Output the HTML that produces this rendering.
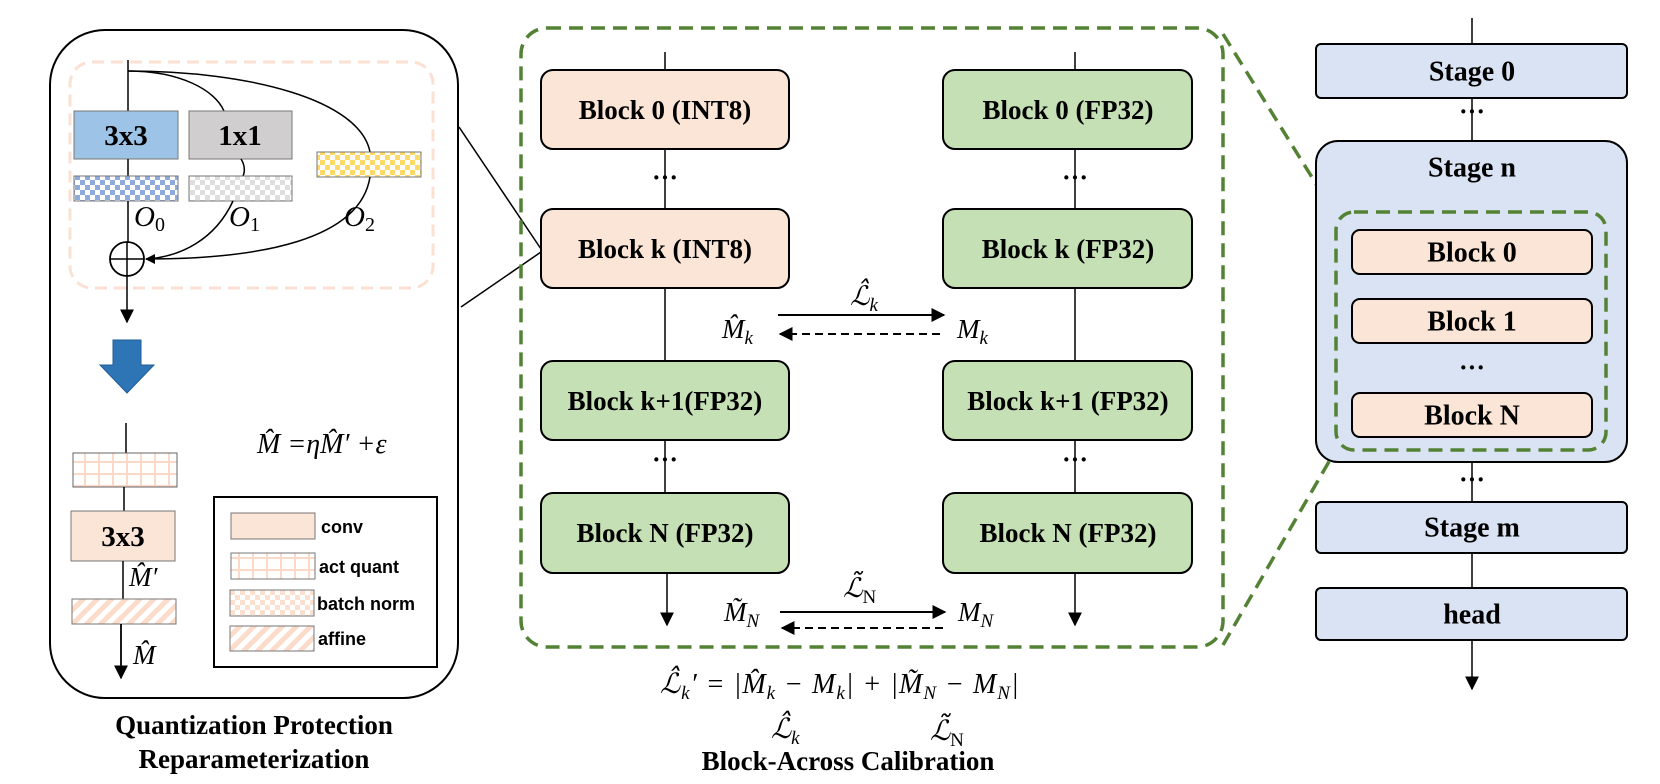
<!DOCTYPE html>
<html><head><meta charset="utf-8"><style>
html,body{margin:0;padding:0;background:#fff;}
svg{display:block;}
.b{font-family:"Liberation Serif",serif;font-weight:bold;}
.m{font-family:"Liberation Serif",serif;font-style:italic;}
.s{font-family:"Liberation Sans",sans-serif;font-weight:bold;}
</style></head><body>
<svg width="1660" height="784" viewBox="0 0 1660 784" xmlns="http://www.w3.org/2000/svg">
<defs>
<marker id="ar" viewBox="0 0 10 10" refX="9" refY="5" markerWidth="10" markerHeight="10" orient="auto" markerUnits="userSpaceOnUse"><path d="M0,0 L10,5 L0,10 z" fill="#000"/></marker>
<marker id="ar2" viewBox="0 0 10 10" refX="9" refY="5" markerWidth="14" markerHeight="14" orient="auto" markerUnits="userSpaceOnUse"><path d="M0,0 L10,5 L0,10 z" fill="#000"/></marker>
<pattern id="chkB" width="10" height="10" patternUnits="userSpaceOnUse"><rect width="10" height="10" fill="#fff"/><rect width="5" height="5" fill="#8faadc"/><rect x="5" y="5" width="5" height="5" fill="#8faadc"/></pattern>
<pattern id="chkG" width="10" height="10" patternUnits="userSpaceOnUse"><rect width="10" height="10" fill="#fff"/><rect width="5" height="5" fill="#dedede"/><rect x="5" y="5" width="5" height="5" fill="#dedede"/></pattern>
<pattern id="chkY" width="10" height="10" patternUnits="userSpaceOnUse"><rect width="10" height="10" fill="#fff"/><rect width="5" height="5" fill="#ffd966"/><rect x="5" y="5" width="5" height="5" fill="#ffd966"/></pattern>
<pattern id="chkP" width="10" height="10" patternUnits="userSpaceOnUse"><rect width="10" height="10" fill="#fff"/><rect width="5" height="5" fill="#fbe0d0"/><rect x="5" y="5" width="5" height="5" fill="#fbe0d0"/></pattern>
<pattern id="grid" width="14" height="12" patternUnits="userSpaceOnUse"><rect width="14" height="12" fill="#fff"/><rect x="0" y="0" width="2" height="12" fill="#fbd9c6"/><rect x="0" y="5" width="14" height="2" fill="#fbd9c6"/></pattern>
<pattern id="diag" width="10" height="10" patternUnits="userSpaceOnUse" patternTransform="rotate(45)"><rect width="10" height="10" fill="#fff"/><rect width="5" height="10" fill="#fbdccb"/></pattern>
</defs>

<!-- LEFT PANEL -->
<rect x="50" y="30" width="408" height="668" rx="55" fill="#fff" stroke="#000" stroke-width="2"/>
<rect x="70" y="62" width="363" height="226" rx="22" fill="none" stroke="#fbe1d3" stroke-width="3" stroke-dasharray="12,7"/>
<line x1="128" y1="60" x2="128" y2="111" stroke="#000" stroke-width="1.5"/>
<path d="M128,71 C180,71 215,90 224,111" fill="none" stroke="#000" stroke-width="1.5"/>
<path d="M128,71 C250,71 360,100 370,152" fill="none" stroke="#000" stroke-width="1.5"/>
<rect x="74" y="111" width="104" height="48" fill="#9dc3e6" stroke="#777" stroke-width="1"/>
<text x="126" y="136" class="b" font-size="29" text-anchor="middle" dominant-baseline="central">3x3</text>
<rect x="189" y="111" width="103" height="48" fill="#d0cece" stroke="#777" stroke-width="1"/>
<text x="240" y="136" class="b" font-size="29" text-anchor="middle" dominant-baseline="central">1x1</text>
<line x1="128" y1="159" x2="128" y2="176" stroke="#000" stroke-width="1.5"/>
<path d="M241,159 C245,165 245,172 243,176" fill="none" stroke="#000" stroke-width="1.5"/>
<rect x="74" y="176" width="104" height="25" fill="url(#chkB)" stroke="#777" stroke-width="1"/>
<rect x="189" y="176" width="103" height="25" fill="url(#chkG)" stroke="#777" stroke-width="1"/>
<rect x="317" y="152" width="104" height="25" fill="url(#chkY)" stroke="#777" stroke-width="1"/>
<line x1="128" y1="201" x2="128" y2="242" stroke="#000" stroke-width="1.5"/>
<path d="M233,201 C215,240 180,257 146,259" fill="none" stroke="#000" stroke-width="1.5"/>
<path d="M370,177 C360,240 260,259 146,259" fill="none" stroke="#000" stroke-width="1.5" marker-end="url(#ar)"/>
<circle cx="127" cy="259" r="17" fill="none" stroke="#000" stroke-width="1.8"/>
<line x1="110" y1="259" x2="144" y2="259" stroke="#000" stroke-width="1.5"/>
<line x1="127" y1="242" x2="127" y2="276" stroke="#000" stroke-width="1.5"/>
<text x="134" y="226" class="m" font-size="29">O<tspan font-size="20" dy="5" font-style="normal">0</tspan></text>
<text x="229" y="226" class="m" font-size="29">O<tspan font-size="20" dy="5" font-style="normal">1</tspan></text>
<text x="344" y="226" class="m" font-size="29">O<tspan font-size="20" dy="5" font-style="normal">2</tspan></text>
<line x1="127" y1="276" x2="127" y2="322" stroke="#000" stroke-width="1.5" marker-end="url(#ar2)"/>
<path d="M113,340 L141,340 L141,365 L154,365 L127,393 L100,365 L113,365 Z" fill="#2e75b6" stroke="#1f5d96" stroke-width="1"/>
<line x1="126" y1="423" x2="126" y2="453" stroke="#000" stroke-width="1.5"/>
<rect x="73" y="453" width="104" height="34" fill="url(#grid)" stroke="#666" stroke-width="1"/>
<line x1="124" y1="487" x2="124" y2="511" stroke="#000" stroke-width="1.5"/>
<rect x="71" y="511" width="104" height="50" fill="#fbe5d6" stroke="#777" stroke-width="1"/>
<text x="123" y="537" class="b" font-size="29" text-anchor="middle" dominant-baseline="central">3x3</text>
<line x1="123" y1="561" x2="123" y2="599" stroke="#000" stroke-width="1.5"/>
<text x="129" y="586" class="m" font-size="27">M̂′</text>
<rect x="72" y="599" width="104" height="25" fill="url(#diag)" stroke="#777" stroke-width="1"/>
<line x1="121" y1="624" x2="121" y2="678" stroke="#000" stroke-width="1.8" marker-end="url(#ar2)"/>
<text x="133" y="664" class="m" font-size="27">M̂</text>
<text x="257" y="453" class="m" font-size="28">M̂ =ηM̂′ +ε</text>
<rect x="214" y="497" width="223" height="170" fill="#fff" stroke="#000" stroke-width="2"/>
<rect x="231" y="513" width="84" height="26" fill="#fbe5d6" stroke="#777"/>
<text x="321" y="533" class="s" font-size="18">conv</text>
<rect x="231" y="553" width="84" height="26" fill="url(#grid)" stroke="#777"/>
<text x="319" y="573" class="s" font-size="18">act quant</text>
<rect x="230" y="590" width="84" height="26" fill="url(#chkP)" stroke="#777"/>
<text x="317" y="610" class="s" font-size="18">batch norm</text>
<rect x="230" y="626" width="84" height="25" fill="url(#diag)" stroke="#777"/>
<text x="318" y="645" class="s" font-size="18">affine</text>
<text x="254" y="734" class="b" font-size="27" text-anchor="middle">Quantization Protection</text>
<text x="254" y="768" class="b" font-size="27" text-anchor="middle">Reparameterization</text>

<line x1="459" y1="127" x2="541" y2="249" stroke="#000" stroke-width="1.5"/>
<line x1="461" y1="307" x2="541" y2="252" stroke="#000" stroke-width="1.5"/>

<!-- MIDDLE PANEL -->
<rect x="521" y="28" width="702" height="619" rx="26" fill="none" stroke="#548235" stroke-width="3.5" stroke-dasharray="14,8"/>
<g stroke="#000" stroke-width="1.5">
<line x1="665" y1="52" x2="665" y2="70"/><line x1="665" y1="149" x2="665" y2="209"/>
<line x1="665" y1="288" x2="665" y2="361"/><line x1="665" y1="440" x2="665" y2="493"/>
<line x1="1075" y1="52" x2="1075" y2="70"/><line x1="1075" y1="149" x2="1075" y2="209"/>
<line x1="1075" y1="288" x2="1075" y2="361"/><line x1="1075" y1="440" x2="1075" y2="493"/>
</g>
<line x1="667" y1="573" x2="667" y2="625" stroke="#000" stroke-width="1.5" marker-end="url(#ar2)"/>
<line x1="1075" y1="573" x2="1075" y2="625" stroke="#000" stroke-width="1.5" marker-end="url(#ar2)"/>
<rect x="541" y="70" width="248" height="79" rx="12" fill="#fbe5d6" stroke="#000" stroke-width="2"/>
<rect x="541" y="209" width="248" height="79" rx="12" fill="#fbe5d6" stroke="#000" stroke-width="2"/>
<rect x="541" y="361" width="248" height="79" rx="12" fill="#c5e0b4" stroke="#000" stroke-width="2"/>
<rect x="541" y="493" width="248" height="80" rx="12" fill="#c5e0b4" stroke="#000" stroke-width="2"/>
<rect x="943" y="70" width="249" height="79" rx="12" fill="#c5e0b4" stroke="#000" stroke-width="2"/>
<rect x="943" y="209" width="249" height="79" rx="12" fill="#c5e0b4" stroke="#000" stroke-width="2"/>
<rect x="943" y="361" width="249" height="79" rx="12" fill="#c5e0b4" stroke="#000" stroke-width="2"/>
<rect x="943" y="493" width="249" height="80" rx="12" fill="#c5e0b4" stroke="#000" stroke-width="2"/>
<g class="b" font-size="27" text-anchor="middle" dominant-baseline="central">
<text x="665" y="110">Block 0 (INT8)</text>
<text x="665" y="249">Block k (INT8)</text>
<text x="665" y="401">Block k+1(FP32)</text>
<text x="665" y="533">Block N (FP32)</text>
<text x="1068" y="110">Block 0 (FP32)</text>
<text x="1068" y="249">Block k (FP32)</text>
<text x="1068" y="401">Block k+1 (FP32)</text>
<text x="1068" y="533">Block N (FP32)</text>
</g>
<g class="b" font-size="26" text-anchor="middle">
<text x="665" y="186">···</text><text x="1075" y="186">···</text>
<text x="665" y="468">···</text><text x="1075" y="468">···</text>
</g>
<line x1="778" y1="315" x2="944" y2="315" stroke="#000" stroke-width="2" marker-end="url(#ar2)"/>
<line x1="940" y1="334" x2="780" y2="334" stroke="#000" stroke-width="2" stroke-dasharray="8,5" marker-end="url(#ar2)"/>
<text x="722" y="338" class="m" font-size="27">M̂<tspan font-size="19" dy="6">k</tspan></text>
<text x="957" y="338" class="m" font-size="27">M<tspan font-size="19" dy="6">k</tspan></text>
<text x="850" y="305" class="m" font-size="27">ℒ̂<tspan font-size="19" dy="6">k</tspan></text>
<line x1="780" y1="612" x2="945" y2="612" stroke="#000" stroke-width="2" marker-end="url(#ar2)"/>
<line x1="943" y1="628" x2="782" y2="628" stroke="#000" stroke-width="2" stroke-dasharray="8,5" marker-end="url(#ar2)"/>
<text x="724" y="621" class="m" font-size="27">M̃<tspan font-size="19" dy="6">N</tspan></text>
<text x="958" y="621" class="m" font-size="27">M<tspan font-size="19" dy="6">N</tspan></text>
<text x="843" y="597" class="m" font-size="27">ℒ̃<tspan font-size="19" dy="6" font-style="normal">N</tspan></text>
<text x="660" y="693" class="m" font-size="28" letter-spacing="1">ℒ̂<tspan font-size="19" dy="6">k</tspan><tspan dy="-6">′ = |M̂</tspan><tspan font-size="19" dy="6">k</tspan><tspan dy="-6"> − M</tspan><tspan font-size="19" dy="6">k</tspan><tspan dy="-6">| + |M̃</tspan><tspan font-size="19" dy="6">N</tspan><tspan dy="-6"> − M</tspan><tspan font-size="19" dy="6">N</tspan><tspan dy="-6">|</tspan></text>
<text x="771" y="738" class="m" font-size="28">ℒ̂<tspan font-size="19" dy="6">k</tspan></text>
<text x="930" y="740" class="m" font-size="28">ℒ̃<tspan font-size="19" dy="6" font-style="normal">N</tspan></text>
<text x="848" y="770" class="b" font-size="27" text-anchor="middle">Block-Across Calibration</text>

<line x1="1223" y1="34" x2="1336" y2="216" stroke="#548235" stroke-width="3.5" stroke-dasharray="14,8"/>
<line x1="1223" y1="645" x2="1338" y2="446" stroke="#548235" stroke-width="3.5" stroke-dasharray="14,8"/>

<!-- RIGHT PANEL -->
<g stroke="#000" stroke-width="1.5">
<line x1="1472" y1="18" x2="1472" y2="44"/><line x1="1472" y1="98" x2="1472" y2="141"/>
<line x1="1472" y1="462" x2="1472" y2="502"/><line x1="1472" y1="553" x2="1472" y2="588"/>
</g>
<line x1="1472" y1="640" x2="1472" y2="689" stroke="#000" stroke-width="1.5" marker-end="url(#ar2)"/>
<rect x="1316" y="44" width="311" height="54" rx="5" fill="#dae3f3" stroke="#000" stroke-width="2"/>
<rect x="1316" y="141" width="311" height="321" rx="22" fill="#dae3f3" stroke="#000" stroke-width="2"/>
<rect x="1336" y="212" width="270" height="238" rx="18" fill="none" stroke="#548235" stroke-width="3.5" stroke-dasharray="14,8"/>
<rect x="1352" y="230" width="240" height="44" rx="8" fill="#fbe5d6" stroke="#000" stroke-width="2"/>
<rect x="1352" y="299" width="240" height="44" rx="8" fill="#fbe5d6" stroke="#000" stroke-width="2"/>
<rect x="1352" y="393" width="240" height="44" rx="8" fill="#fbe5d6" stroke="#000" stroke-width="2"/>
<rect x="1316" y="502" width="311" height="51" rx="5" fill="#dae3f3" stroke="#000" stroke-width="2"/>
<rect x="1316" y="588" width="311" height="52" rx="5" fill="#dae3f3" stroke="#000" stroke-width="2"/>
<g class="b" font-size="28" text-anchor="middle" dominant-baseline="central">
<text x="1472" y="72">Stage 0</text>
<text x="1472" y="168">Stage n</text>
<text x="1472" y="253">Block 0</text>
<text x="1472" y="322">Block 1</text>
<text x="1472" y="416">Block N</text>
<text x="1472" y="528">Stage m</text>
<text x="1472" y="615">head</text>
</g>
<g class="b" font-size="26" text-anchor="middle">
<text x="1472" y="120">···</text>
<text x="1472" y="376">···</text>
<text x="1472" y="488">···</text>
</g>
</svg>
</body></html>
